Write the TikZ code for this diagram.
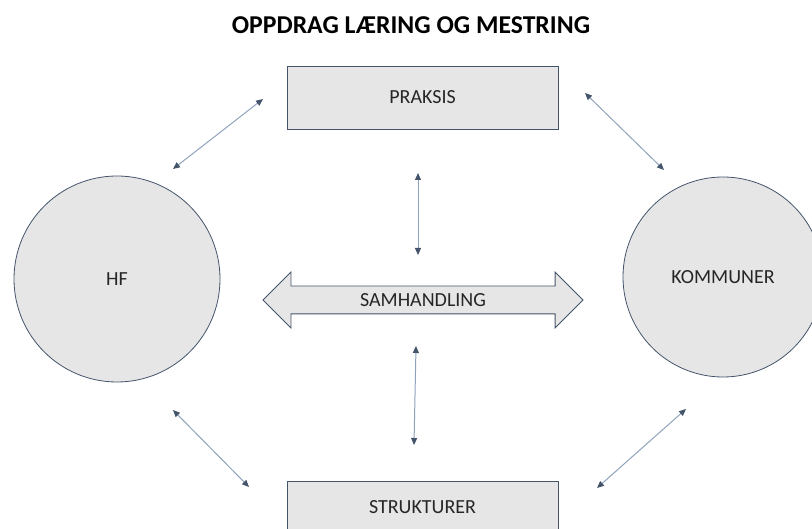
\documentclass[tikz,border=0pt]{standalone}
\usepackage{fontspec}
\setmainfont{Carlito}
\usetikzlibrary{arrows.meta, shapes.arrows}

\definecolor{boxfill}{HTML}{E7E6E6}
\definecolor{edgeblue}{HTML}{44546A}
\definecolor{linkblue}{HTML}{8FA2BC}

\tikzset{
  labelfont/.style={font=\fontsize{20}{24}\selectfont, text=black!85},
  actor/.style={circle, draw=edgeblue, fill=boxfill, line width=0.8pt, labelfont},
  field/.style={rectangle, draw=edgeblue, fill=boxfill, line width=0.8pt,
    minimum width=271pt, labelfont},
  link/.style={draw=linkblue, line width=1pt, <->,
    >={Triangle[length=7pt,width=6pt,color=edgeblue]}}
}

\begin{document}
\begin{tikzpicture}[x=1pt,y=-1pt]
  \useasboundingbox (0,0) rectangle (812,529);
  % Title
  \node[font=\bfseries\fontsize{25.7}{30}\selectfont, anchor=base] (title)
    at (411,34) {OPPDRAG LÆRING OG MESTRING};
  % Partners
  \node[actor, minimum size=206pt] (hf) at (117,279) {HF};
  \node[actor, minimum size=200pt] (komm) at (723,277) {KOMMUNER};
  % Fields
  \node[field, minimum height=63pt] (praksis) at (422.5,97.5) {PRAKSIS};
  \node[field, minimum height=52pt] (strukt) at (422.5,507) {STRUKTURER};
  % Cooperation arrow
  \node[double arrow, draw=edgeblue, fill=boxfill, line width=0.8pt,
    minimum height=320pt, double arrow head extend=14pt,
    inner xsep=0pt, inner ysep=7pt, text height=13pt, text depth=0pt,
    labelfont] (samh) at (423,300) {SAMHANDLING};
  % Link ends
  \coordinate (hf-a) at (173,169);
  \coordinate (pr-a) at (263,99);
  \coordinate (pr-b) at (585,93);
  \coordinate (km-a) at (664,170);
  \coordinate (hf-b) at (173,410);
  \coordinate (st-a) at (249,487);
  \coordinate (st-b) at (597,488);
  \coordinate (km-b) at (686,409);
  \coordinate (pr-c) at (418,173);
  \coordinate (sa-a) at (418,255);
  \coordinate (sa-b) at (416,346);
  \coordinate (st-c) at (414,445);
  % Links
  \draw[link] (hf-a) -- (pr-a);
  \draw[link] (pr-b) -- (km-a);
  \draw[link] (hf-b) -- (st-a);
  \draw[link] (st-b) -- (km-b);
  \draw[link] (pr-c) -- (sa-a);
  \draw[link] (sa-b) -- (st-c);
\end{tikzpicture}
\end{document}
